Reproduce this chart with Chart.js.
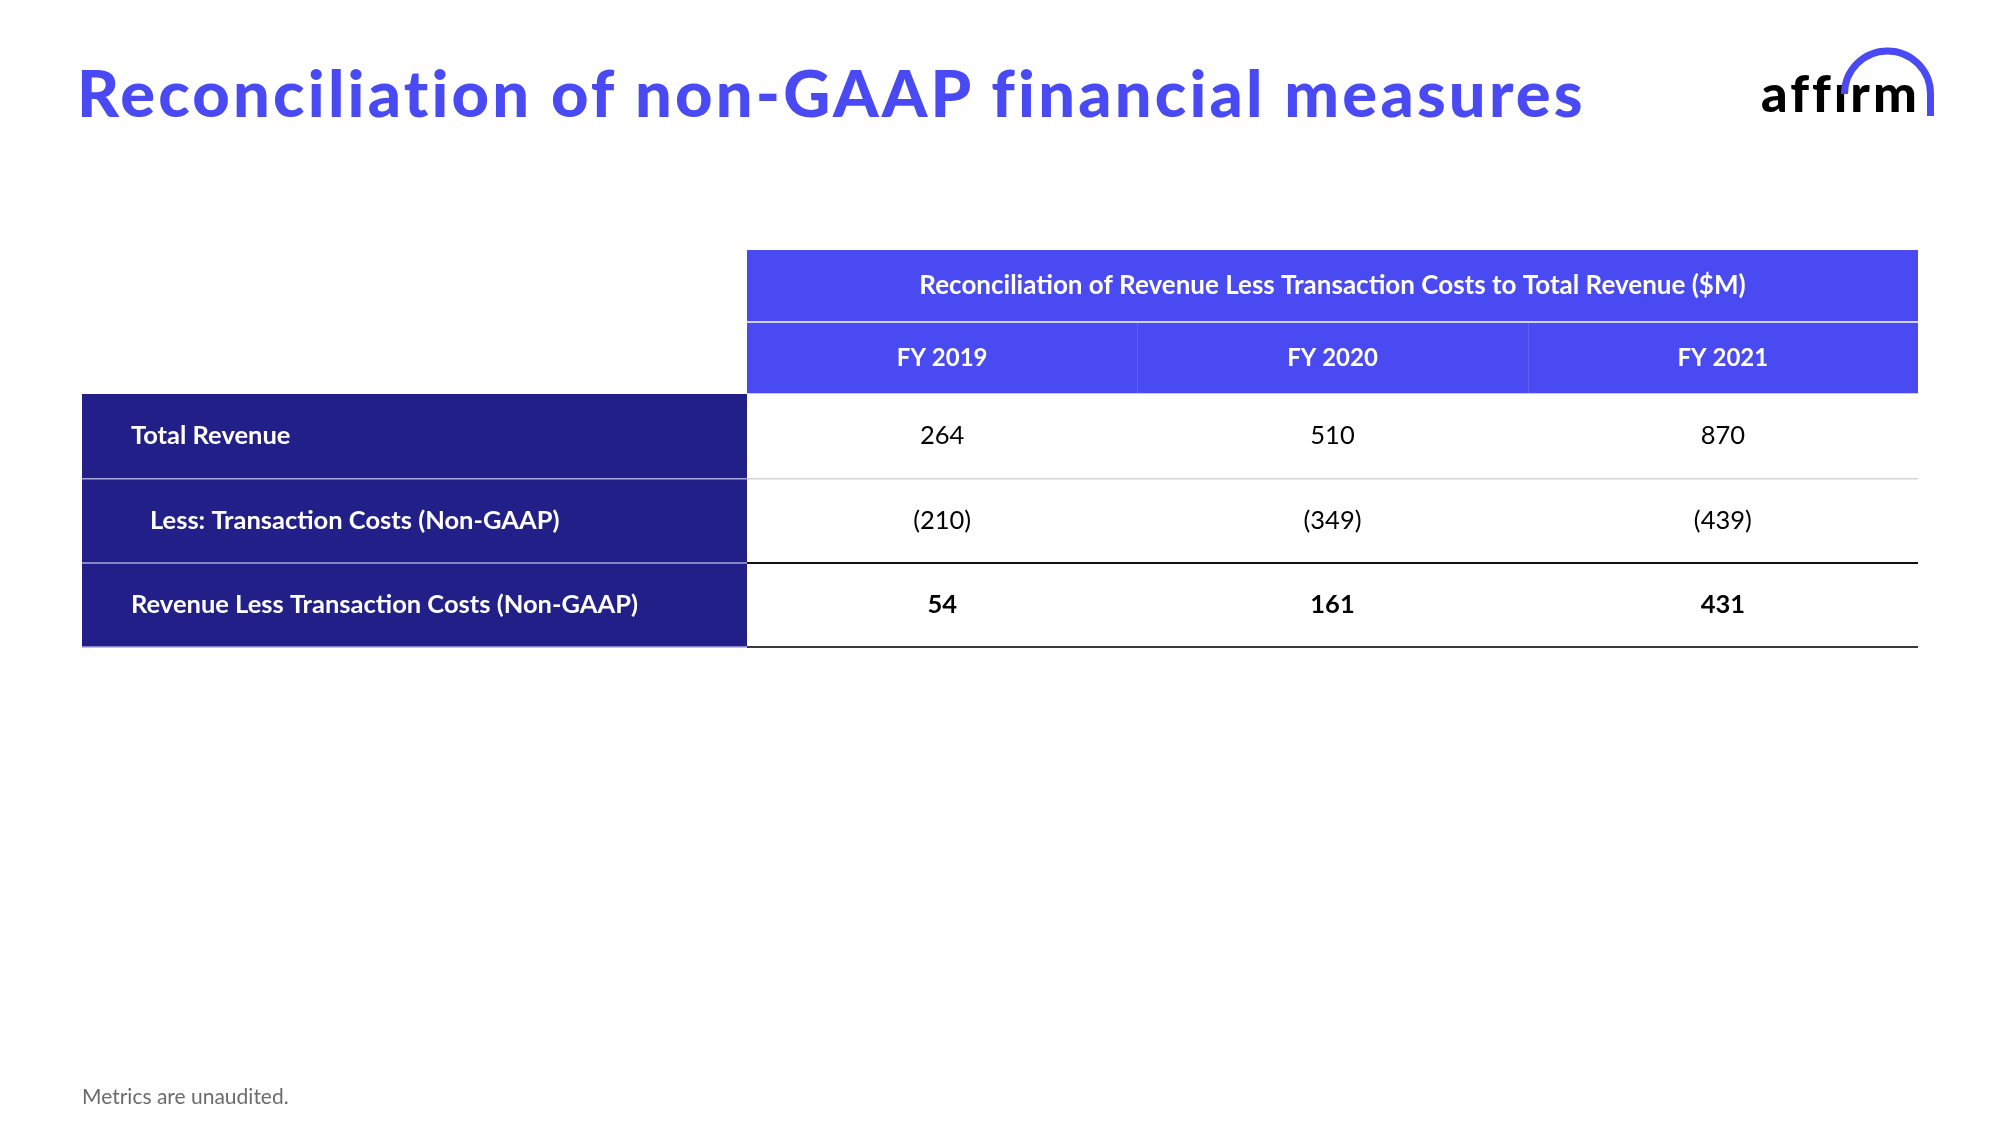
<!DOCTYPE html>
<html lang="en">
<head>
<meta charset="utf-8">
<title>Reconciliation of non-GAAP financial measures</title>
<script src="https://cdn.jsdelivr.net/npm/chart.js@4.4.1/dist/chart.umd.min.js"></script>
<style>
    html, body { margin: 0; padding: 0; background: #fff; }
    #page { position: relative; width: 2000px; height: 1125px; overflow: hidden; font-family: Lato, sans-serif; }
    #tableWrap { position: absolute; left: 0; top: 0; width: 2000px; height: 1125px; }
    h1 { position: absolute; left: 77px; top: 53px; margin: 0; font-size: 65px; line-height: 1.2; font-weight: 900; color: #4a4af4; white-space: nowrap; letter-spacing: 3.2px; font-variant-ligatures: none; }
    .logo { position: absolute; left: 1761px; top: 61px; font-size: 52px; line-height: 1.2; font-weight: 900; color: #000; letter-spacing: 3px; font-variant-ligatures: none; }
    .arc { position: absolute; left: 0; top: 0; }
    .note { position: absolute; left: 82px; top: 1083px; font-size: 21px; line-height: 1.2; color: #6b6b6b; }
</style>
</head>
<body>
<div id="page">
    <div id="tableWrap"><canvas id="reconChart"></canvas></div>
    <h1>Reconciliation of non-GAAP financial measures</h1>
    <div class="logo">affırm</div>
    <svg class="arc" width="2000" height="200">
        <path d="M1844.5 94 A43 43 0 0 1 1930.5 94 L1930.5 116" fill="none" stroke="#4a4af4" stroke-width="7"/>
    </svg>
    <div class="note">Metrics are unaudited.</div>
</div>

<script>
// Table content
const tableTitle = 'Reconciliation of Revenue Less Transaction Costs to Total Revenue ($M)';
const fiscalYears = ['FY 2019', 'FY 2020', 'FY 2021'];
const rowLabels = [
    'Total Revenue',
    'Less: Transaction Costs (Non-GAAP)',
    'Revenue Less Transaction Costs (Non-GAAP)'
];
const totalRevenue = [264, 510, 870];
const transactionCosts = [-210, -349, -439];
const revenueLessCosts = [54, 161, 431];

const rowValues = [totalRevenue, transactionCosts, revenueLessCosts];

// Colours and sizes
const headerBlue = '#4a4af3';
const labelNavy = '#221f88';
const labelColumnWidth = 665;
const headerHeight = 144;
const cellFont = 'Lato';

function formatAmount(value) {
    return value < 0 ? '(' + Math.abs(value) + ')' : String(value);
}

// grid line index: 0 = top edge, last = bottom edge (scale context)
function lineIndex(ctx) {
    return ctx.type === 'tick' ? ctx.index : rowLabels.length;
}

const bodyLineColors = ['rgba(255,255,255,0.7)', '#d4d4d4', '#111111', '#3a3a3a'];
const bodyLineWidths = [2, 1.5, 2, 2];
const labelLineColors = ['rgba(0,0,0,0)', '#a9a8e0', '#a9a8e0', '#a9a8e0'];

const datasets = rowValues.map((values, r) => ({
    label: rowLabels[r],
    data: values.map((v, c) => ({ x: fiscalYears[c], y: rowLabels[r], amount: v })),
    pointRadius: 0,
    pointHoverRadius: 0
}));

const tablePlugin = {
    id: 'tablePlugin',
    beforeDraw(chart) {
        const { ctx, chartArea, scales: { x, y } } = chart;
        ctx.save();
        // header block
        ctx.fillStyle = headerBlue;
        ctx.fillRect(x.left, x.top, x.right - x.left, x.bottom - x.top);
        // label column
        ctx.fillStyle = labelNavy;
        ctx.fillRect(y.left, chartArea.top, y.right - y.left, chartArea.bottom - chartArea.top);

        // line between title row and year row
        const mid = (x.top + x.bottom) / 2;
        ctx.strokeStyle = 'rgba(255,255,255,0.75)';
        ctx.lineWidth = 2;
        ctx.beginPath();
        ctx.moveTo(x.left, mid);
        ctx.lineTo(x.right, mid);
        ctx.stroke();

        // dividers between the year columns
        ctx.strokeStyle = 'rgba(255,255,255,0.12)';
        ctx.lineWidth = 1;
        for (let i = 1; i < fiscalYears.length; i++) {
            const px = Math.round((x.getPixelForValue(i - 1) + x.getPixelForValue(i)) / 2) + 0.5;
            ctx.beginPath();
            ctx.moveTo(px, mid + 1);
            ctx.lineTo(px, x.bottom);
            ctx.stroke();
        }
        ctx.restore();
    },
    afterDatasetsDraw(chart) {
        const { ctx, scales: { y } } = chart;
        ctx.save();
        ctx.textBaseline = 'middle';

        // row labels
        ctx.fillStyle = '#ffffff';
        ctx.font = 'bold 25.5px ' + cellFont;
        ctx.textAlign = 'left';
        rowLabels.forEach((label, i) => {
            const indent = label.startsWith('Less:') ? 68 : 49;
            ctx.fillText(label, y.left + indent, y.getPixelForValue(i));
        });

        // amounts, placed on the point elements
        ctx.textAlign = 'center';
        ctx.fillStyle = '#000000';
        chart.data.datasets.forEach((ds, r) => {
            ctx.font = (r === rowValues.length - 1 ? 'bold ' : '') + '25.5px ' + cellFont;
            chart.getDatasetMeta(r).data.forEach((pt, c) => {
                ctx.fillText(formatAmount(ds.data[c].amount), pt.x, pt.y);
            });
        });
        ctx.restore();
    }
};

new Chart(document.getElementById('reconChart'), {
    type: 'scatter',
    data: { datasets: datasets },
    options: {
        responsive: true,
        maintainAspectRatio: false,
        animation: false,
        events: [],
        layout: {
            padding: { top: 250, left: 82, right: 82, bottom: 478 }
        },
        plugins: {
            legend: { display: false },
            tooltip: { enabled: false }
        },
        scales: {
            x: {
                type: 'category',
                labels: fiscalYears,
                position: 'top',
                offset: true,
                grid: { display: false, drawTicks: false },
                border: { display: false },
                ticks: {
                    color: '#ffffff',
                    font: { family: cellFont, weight: 'bold', size: 24, lineHeight: 1.2 },
                    padding: headerHeight / 4 - 14.4,
                    maxRotation: 0,
                    autoSkip: false
                },
                title: {
                    display: true,
                    text: tableTitle,
                    color: '#ffffff',
                    font: { family: cellFont, weight: 'bold', size: 26, lineHeight: 1.2 },
                    padding: { top: headerHeight / 4 - 15.6, bottom: 0 }
                },
                afterFit(scale) { scale.height = headerHeight; }
            },
            y: {
                type: 'category',
                labels: rowLabels,
                position: 'left',
                offset: true,
                ticks: { display: false },
                border: { display: false },
                grid: {
                    offset: true,
                    drawTicks: true,
                    tickLength: labelColumnWidth,
                    color: ctx => bodyLineColors[lineIndex(ctx)],
                    lineWidth: ctx => bodyLineWidths[lineIndex(ctx)],
                    tickColor: ctx => labelLineColors[lineIndex(ctx)],
                    tickWidth: 1.5
                },
                afterFit(scale) { scale.width = labelColumnWidth; }
            }
        }
    },
    plugins: [tablePlugin]
});
</script>
</body>
</html>
